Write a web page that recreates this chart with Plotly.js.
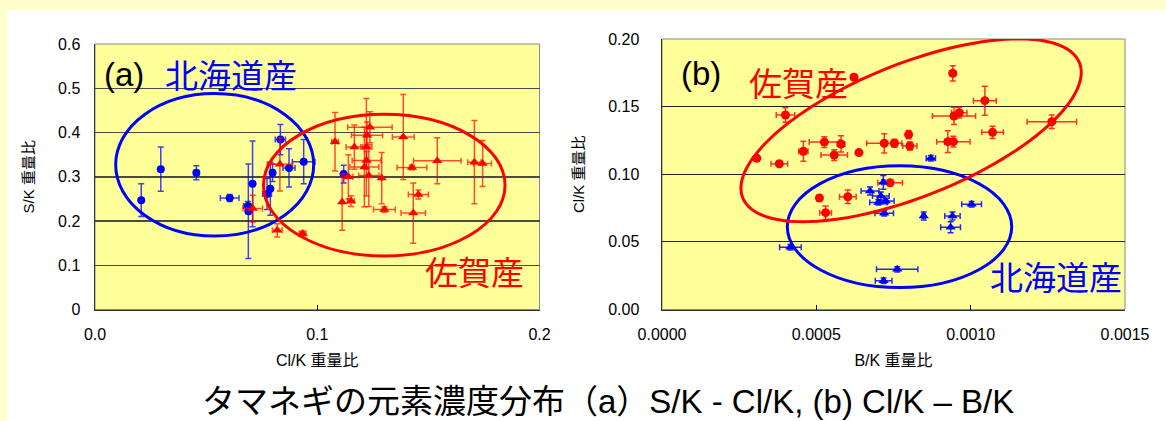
<!DOCTYPE html>
<html>
<head>
<meta charset="utf-8">
<script src="https://cdn.plot.ly/plotly-3.0.1.min.js"></script>
<style>
  html, body { margin:0; padding:0; background:#FFFFCC; width:1166px; height:421px; overflow:hidden; }
  #chart { position:absolute; left:7px; top:10px; width:1159px; height:411px; background:#ffffff; }
</style>
</head>
<body>
<div id="chart"></div>
<script>
// ---------------- Data ----------------
// Panel (a): S/K vs Cl/K
const aHokkaidoX  = [0.0208,0.0296,0.0456,0.0606,0.0688,0.0690,0.0709,0.0774,0.0789,0.0799,0.0834,0.0873,0.0939,0.1119];
const aHokkaidoY  = [0.247,0.317,0.309,0.252,0.234,0.222,0.284,0.261,0.273,0.309,0.384,0.320,0.334,0.306];
const aHokkaidoXe = [0,0,0.001,0.0042,0.002,0.001,0,0.002,0,0,0.0023,0.0027,0.0051,0];
const aHokkaidoYe = [0.037,0.05,0.016,0.008,0.01,0.107,0.097,0.035,0.06,0.02,0.034,0.043,0.05,0.02];

const aSagaX  = [0.0710,0.0820,0.0832,0.0934,0.1080,0.1112,0.1140,0.1152,0.1167,0.1212,0.1222,0.1221,0.1224,0.1237,0.1232,0.1290,0.1302,0.1387,0.1426,0.1455,0.1432,0.1540,0.1707,0.1744];
const aSagaY  = [0.228,0.179,0.328,0.172,0.379,0.243,0.300,0.245,0.367,0.322,0.337,0.367,0.394,0.412,0.303,0.297,0.226,0.390,0.321,0.260,0.218,0.336,0.333,0.330];
const aSagaXe = [0.0044,0.0022,0.0057,0.0015,0.0015,0,0.002,0.0015,0.0037,0.0065,0.0065,0.0025,0.007,0.01,0.0046,0,0.0049,0.0049,0.0067,0.0045,0.0055,0.0107,0.003,0.004];
const aSagaYe = [0.03,0.015,0.06,0.005,0.066,0.064,0.05,0.012,0.05,0.09,0.02,0.11,0.03,0.035,0.07,0.058,0.006,0.096,0.005,0.01,0.068,0.052,0.094,0.052];

// Panel (b): Cl/K vs B/K
const bSagaX  = [0.000307,0.000380,0.000400,0.000458,0.000526,0.000558,0.000580,0.000638,0.000622,0.000720,0.000753,0.000799,0.000803,0.000926,0.000944,0.000942,0.000946,0.000963,0.001046,0.001071,0.001263,0.000739,0.000510,0.000602,0.000530];
const bSagaY  = [0.1118,0.1078,0.1438,0.1170,0.1238,0.1142,0.1224,0.1160,0.1717,0.1229,0.1229,0.1293,0.1209,0.1241,0.1241,0.1746,0.1431,0.1455,0.1544,0.1310,0.1389,0.0937,0.0824,0.0834,0.0716];
const bSagaXe = [0.000008,0.000027,0.00003,0.000015,0.000049,0.000043,0.000012,0.000008,0.00001,0.000057,0.00001,0.000005,0.000023,0.00001,0.000054,0.00001,0.00007,0.000025,0.000037,0.000035,0.00008,0.00004,0.000005,0.000027,0.000019];
const bSagaYe = [0.002,0.002,0.0054,0.0074,0.004,0.004,0.006,0.002,0.002,0.0071,0.003,0.003,0.003,0.008,0.004,0.0057,0.0064,0.004,0.0107,0.0045,0.005,0.002,0.002,0.005,0.005];

const bHokkaidoX  = [0.000717,0.000674,0.000709,0.000725,0.000701,0.000720,0.000848,0.000941,0.000935,0.001003,0.000416,0.000762,0.000718,0.000871];
const bHokkaidoY  = [0.0940,0.0876,0.0839,0.0802,0.0792,0.0711,0.0691,0.0691,0.0608,0.0778,0.0460,0.0297,0.0213,0.1118];
const bHokkaidoXe = [0.000005,0.000029,0.000027,0.000027,0.000028,0.00003,0.000005,0.000025,0.000032,0.000032,0.000035,0.000067,0.000027,0.000015];
const bHokkaidoYe = [0.005,0.003,0.003,0.002,0.002,0.002,0.003,0.003,0.004,0.002,0.002,0.002,0.002,0.002];

// Tick labels
const aXTicks = [0, 0.1, 0.2];
const aXTickText = ["0.0", "0.1", "0.2"];
const aYTicks = [0, 0.1, 0.2, 0.3, 0.4, 0.5, 0.6];
const aYTickText = ["0", "0.1", "0.2", "0.3", "0.4", "0.5", "0.6"];
const bXTicks = [0, 0.0005, 0.001, 0.0015];
const bXTickText = ["0.0000", "0.0005", "0.0010", "0.0015"];
const bYTicks = [0, 0.05, 0.1, 0.15, 0.2];
const bYTickText = ["0.00", "0.05", "0.10", "0.15", "0.20"];

// Texts
const labelHokkaido = "北海道産";
const labelSaga = "佐賀産";
const captionText = "タマネギの元素濃度分布（a）S/K - Cl/K, (b) Cl/K – B/K";

// ---------------- Layout helpers ----------------
const W = 1159, H = 411;            // chart div size (page offset 7,10)
const PX = X => (X - 7) / W;        // page x -> paper
const PY = Y => 1 - (Y - 10) / H;   // page y -> paper

const BLUE = "#0000FF", RED = "#FF0000";
const LATIN = "Liberation Sans, Arial, Noto Sans CJK JP, sans-serif";
const CJK = "Noto Sans CJK JP, Liberation Sans, sans-serif";

const xDomA = [PX(95), PX(539.5)];
const xDomB = [PX(662), PX(1125)];
const yDomA = [PY(309.5), PY(44)];
const yDomB = [PY(309.5), PY(39)];
const xRangeA = [0, 0.2], yRangeA = [0, 0.6];
const xRangeB = [0, 0.0015], yRangeB = [0, 0.2];

function errTrace(x, y, xe, ye, color, errColor, symbol, size, xa, ya, name) {
  return {
    type: "scatter", mode: "markers", x: x, y: y, xaxis: xa, yaxis: ya, name: name,
    marker: { color: color, symbol: symbol, size: size },
    error_x: { type: "data", array: xe, visible: true, color: errColor, thickness: 1.5, width: 3 },
    error_y: { type: "data", array: ye, visible: true, color: errColor, thickness: 1.5, width: 3 },
    showlegend: false, hoverinfo: "x+y"
  };
}

const traces = [
  errTrace(aHokkaidoX, aHokkaidoY, aHokkaidoXe, aHokkaidoYe, BLUE, "rgba(0,0,255,0.75)", "circle", 8, "x", "y", labelHokkaido),
  errTrace(aSagaX, aSagaY, aSagaXe, aSagaYe, RED, "rgba(255,0,0,0.7)", "triangle-up", 9, "x", "y", labelSaga),
  errTrace(bSagaX, bSagaY, bSagaXe, bSagaYe, RED, "rgba(255,0,0,0.8)", "circle", 9, "x2", "y2", labelSaga),
  errTrace(bHokkaidoX, bHokkaidoY, bHokkaidoXe, bHokkaidoYe, BLUE, "rgba(0,0,255,0.85)", "triangle-up", 9, "x2", "y2", labelHokkaido)
];

// Rotated ellipse (panel b, 佐賀産) : center in data, semi-axes in pixels, tilt in degrees
function rotatedEllipsePath(cx, cy, aPx, bPx, deg) {
  const pxPerX = (xDomB[1] - xDomB[0]) * W / (xRangeB[1] - xRangeB[0]);
  const pxPerY = (yDomB[1] - yDomB[0]) * H / (yRangeB[1] - yRangeB[0]);
  const th = deg * Math.PI / 180;
  let d = "";
  const n = 120;
  for (let i = 0; i <= n; i++) {
    const t = 2 * Math.PI * i / n;
    const dx = aPx * Math.cos(t) * Math.cos(th) - bPx * Math.sin(t) * Math.sin(th);
    const dy = aPx * Math.cos(t) * Math.sin(th) + bPx * Math.sin(t) * Math.cos(th);
    const x = cx + dx / pxPerX, y = cy + dy / pxPerY;
    d += (i === 0 ? "M" : "L") + x.toPrecision(7) + "," + y.toPrecision(7);
  }
  return d + "Z";
}

const axisCommonX = {
  showgrid: false, zeroline: false, showline: true, linecolor: "#333", linewidth: 1.5,
  ticks: "inside", ticklen: 5, tickcolor: "#000", tickwidth: 1, tickmode: "array",
  tickfont: { family: LATIN, size: 16, color: "#000" }, ticklabelstandoff: 10,
  fixedrange: true
};
const axisCommonY = {
  zeroline: false, showline: true, linecolor: "#333", linewidth: 1.5, ticks: "", tickmode: "array",
  tickfont: { family: LATIN, size: 16, color: "#000" }, fixedrange: true
};

const layout = {
  width: W, height: H,
  margin: { l: 0, r: 0, t: 0, b: 0 },
  paper_bgcolor: "#FFFFFF", plot_bgcolor: "#FFFF99",
  font: { family: LATIN, color: "#000" },
  showlegend: false,
  xaxis: Object.assign({}, axisCommonX, {
    domain: xDomA, range: xRangeA, anchor: "y", tickvals: aXTicks, ticktext: aXTickText,
    title: { text: "Cl/K 重量比", font: { family: LATIN, size: 16, color: "#000" }, standoff: 12 }
  }),
  yaxis: Object.assign({}, axisCommonY, {
    domain: yDomA, range: yRangeA, anchor: "x", tickvals: aYTicks, ticktext: aYTickText,
    showgrid: true, gridcolor: "#4a4a4a", gridwidth: 1.5, ticklabelstandoff: 10,
    title: { text: "S/K 重量比", font: { family: LATIN, size: 15, color: "#000" }, standoff: 20 }
  }),
  xaxis2: Object.assign({}, axisCommonX, {
    domain: xDomB, range: xRangeB, anchor: "y2", tickvals: bXTicks, ticktext: bXTickText,
    title: { text: "B/K 重量比", font: { family: LATIN, size: 16, color: "#000" }, standoff: 12 }
  }),
  yaxis2: Object.assign({}, axisCommonY, {
    domain: yDomB, range: yRangeB, anchor: "x2", tickvals: bYTicks, ticktext: bYTickText,
    showgrid: true, gridcolor: "#222222", gridwidth: 1, ticklabelstandoff: 18,
    title: { text: "Cl/K 重量比", font: { family: LATIN, size: 15, color: "#000" }, standoff: 20 }
  }),
  shapes: [
    // plot frames (thin gray on top/right)
    { type: "rect", xref: "x domain", yref: "y domain", x0: 0, x1: 1, y0: 0, y1: 1, line: { color: "#888", width: 1 }, layer: "below" },
    { type: "rect", xref: "x2 domain", yref: "y2 domain", x0: 0, x1: 1, y0: 0, y1: 1, line: { color: "#888", width: 1 }, layer: "below" },
    // ellipses panel (a)
    { type: "circle", xref: "x", yref: "y", x0: 0.0093, x1: 0.0984, y0: 0.166, y1: 0.488, line: { color: BLUE, width: 3 } },
    { type: "circle", xref: "x", yref: "y", x0: 0.0758, x1: 0.1845, y0: 0.121, y1: 0.441, line: { color: RED, width: 3 } },
    // ellipses panel (b)
    { type: "circle", xref: "x2", yref: "y2", x0: 0.000406, x1: 0.001133, y0: 0.0162, y1: 0.1062, line: { color: BLUE, width: 3 } },
    { type: "path", xref: "x2", yref: "y2", path: rotatedEllipsePath(0.000807, 0.1325, 181.4, 66.4, 21.85), line: { color: RED, width: 3 } }
  ],
  annotations: [
    { xref: "paper", yref: "paper", x: PX(102), y: PY(74), xanchor: "left", yanchor: "middle", showarrow: false,
      text: "(a)", font: { family: LATIN, size: 33, color: "#000" } },
    { xref: "paper", yref: "paper", x: PX(163), y: PY(74), xanchor: "left", yanchor: "middle", showarrow: false,
      text: labelHokkaido, font: { family: CJK, size: 33, color: BLUE } },
    { xref: "paper", yref: "paper", x: PX(423), y: PY(271), xanchor: "left", yanchor: "middle", showarrow: false,
      text: labelSaga, font: { family: CJK, size: 33, color: RED } },
    { xref: "paper", yref: "paper", x: PX(679), y: PY(73), xanchor: "left", yanchor: "middle", showarrow: false,
      text: "(b)", font: { family: LATIN, size: 33, color: "#000" } },
    { xref: "paper", yref: "paper", x: PX(747), y: PY(82), xanchor: "left", yanchor: "middle", showarrow: false,
      text: labelSaga, font: { family: CJK, size: 33, color: RED } },
    { xref: "paper", yref: "paper", x: PX(988), y: PY(276), xanchor: "left", yanchor: "middle", showarrow: false,
      text: labelHokkaido, font: { family: CJK, size: 33, color: BLUE } },
    { xref: "paper", yref: "paper", x: PX(608), y: PY(401), xanchor: "center", yanchor: "middle", showarrow: false,
      text: captionText, font: { family: LATIN, size: 33, color: "#000" }, borderpad: 0 }
  ]
};

Plotly.newPlot("chart", traces, layout, { displayModeBar: false, staticPlot: true });
</script>
</body>
</html>
